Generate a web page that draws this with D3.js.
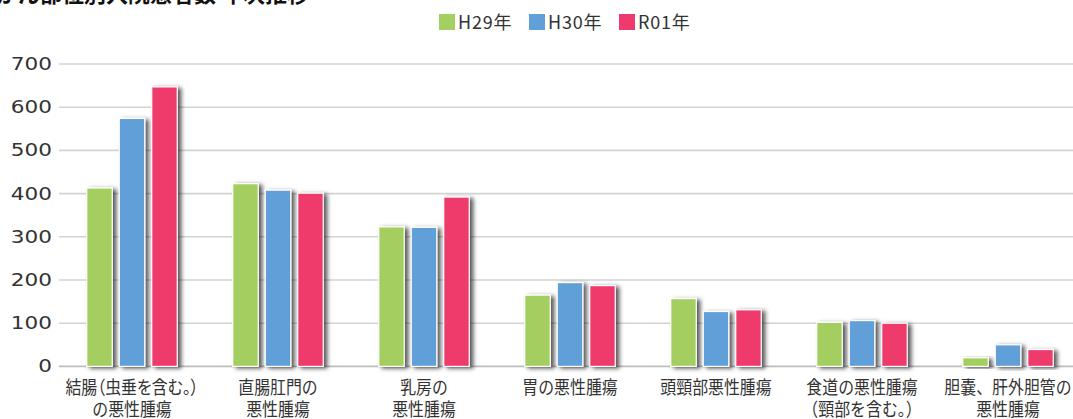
<!DOCTYPE html>
<html>
<head>
<meta charset="utf-8">
<script src="https://cdn.jsdelivr.net/npm/d3@7"></script>
<style>
  body { margin: 0; background: #fff; }
  svg { display: block; font-family: "Noto Sans CJK JP", "Noto Sans", sans-serif; }
</style>
</head>
<body>
<svg id="chart" width="1073" height="419"></svg>
<script>
// chart data
const categories = [
    ["結腸（虫垂を含む。）", "の悪性腫瘍"],
    ["直腸肛門の", "悪性腫瘍"],
    ["乳房の", "悪性腫瘍"],
    ["胃の悪性腫瘍"],
    ["頭頸部悪性腫瘍"],
    ["食道の悪性腫瘍", "（頸部を含む。）"],
    ["胆嚢、肝外胆管の", "悪性腫瘍"]
];
const seriesNames = ["H29年", "H30年", "R01年"];
const seriesColors = ["#a4cf61", "#609fd7", "#ee3a6c"];
const h29 = [413, 423, 323, 165, 157, 102, 20];
const h30 = [574, 408, 322, 194, 127, 106, 50];
const r01 = [647, 401, 392, 187, 131, 100, 39];
const yTicks = [0, 100, 200, 300, 400, 500, 600, 700];

const values = [h29, h30, r01];

const svg = d3.select("#chart");

// drop shadow for bars
const defs = svg.append("defs");
const filter = defs.append("filter").attr("id", "shadow")
    .attr("x", "-20%").attr("y", "-20%").attr("width", "160%").attr("height", "140%");
filter.append("feDropShadow")
    .attr("dx", 3.5).attr("dy", 1.5)
    .attr("stdDeviation", 2)
    .attr("flood-color", "#000")
    .attr("flood-opacity", 0.65);

// title, cut off at the top of the picture
svg.append("text")
    .attr("x", -4)
    .attr("y", 2)
    .attr("font-size", 22)
    .attr("font-weight", "bold")
    .attr("fill", "#111")
    .text("がん部位別入院患者数 年次推移");

const x0 = d3.scaleBand()
    .domain(d3.range(categories.length))
    .range([59, 1081]);

const x1 = d3.scaleBand()
    .domain(d3.range(seriesNames.length))
    .range([-45.25, 45.25])
    .paddingInner(0.215);

const y = d3.scaleLinear()
    .domain([0, 700])
    .range([366.4, 64]);

// grid lines
svg.append("g")
    .selectAll("line")
    .data(yTicks)
    .join("line")
    .attr("x1", 59)
    .attr("x2", 1073)
    .attr("y1", d => y(d))
    .attr("y2", d => y(d))
    .attr("stroke", d => d === 0 ? "#bdbdbd" : "#d3d3d3")
    .attr("stroke-width", 1.6);

// y axis labels (the original digits are wide, so stretch them a bit)
const yAxis = svg.append("g")
    .attr("transform", "translate(52,0)")
    .call(d3.axisLeft(y).tickValues(yTicks).tickSize(0).tickPadding(0));
yAxis.select(".domain").remove();
yAxis.selectAll("text")
    .attr("font-size", 18)
    .attr("fill", "#333")
    .attr("font-family", "'DejaVu Sans', sans-serif")
    .attr("transform", "scale(1.2,0.95)");

// bars
const groups = svg.append("g")
    .selectAll("g")
    .data(categories)
    .join("g")
    .attr("transform", (d, i) => `translate(${x0(i) + x0.bandwidth() / 2},0)`);

groups.selectAll("rect")
    .data((d, i) => values.map((s, k) => ({k: k, v: s[i]})))
    .join("rect")
    .attr("x", d => x1(d.k))
    .attr("width", x1.bandwidth())
    .attr("y", d => y(d.v))
    .attr("height", d => y(0) - y(d.v))
    .attr("fill", d => seriesColors[d.k])
    .attr("stroke", "#fff")
    .attr("stroke-width", 1.2)
    .attr("filter", "url(#shadow)");

// category labels - glyphs in the original are a bit taller than wide
groups.append("text")
    .attr("text-anchor", "middle")
    .attr("font-size", 18.5)
    .attr("fill", "#333")
    .attr("transform", "scale(0.86,1)")
    .selectAll("tspan")
    .data(d => d)
    .join("tspan")
    .attr("x", 0)
    .attr("y", (d, i) => 394 + i * 22)
    // the first label packs its brackets tighter
    .style("font-feature-settings", d => d.startsWith("結腸") ? "'palt'" : null)
    .text(d => d);

// legend
const legendX = [439, 529, 619];
const legend = svg.append("g")
    .selectAll("g")
    .data(seriesNames)
    .join("g")
    .attr("transform", (d, i) => `translate(${legendX[i]},14)`);
legend.append("rect")
    .attr("width", 16)
    .attr("height", 16)
    .attr("fill", (d, i) => seriesColors[i]);
legend.append("text")
    .attr("x", 19)
    .attr("y", 15)
    .attr("font-size", 18)
    .attr("letter-spacing", 0.8)
    .attr("fill", "#333")
    .text(d => d);
</script>
</body>
</html>
